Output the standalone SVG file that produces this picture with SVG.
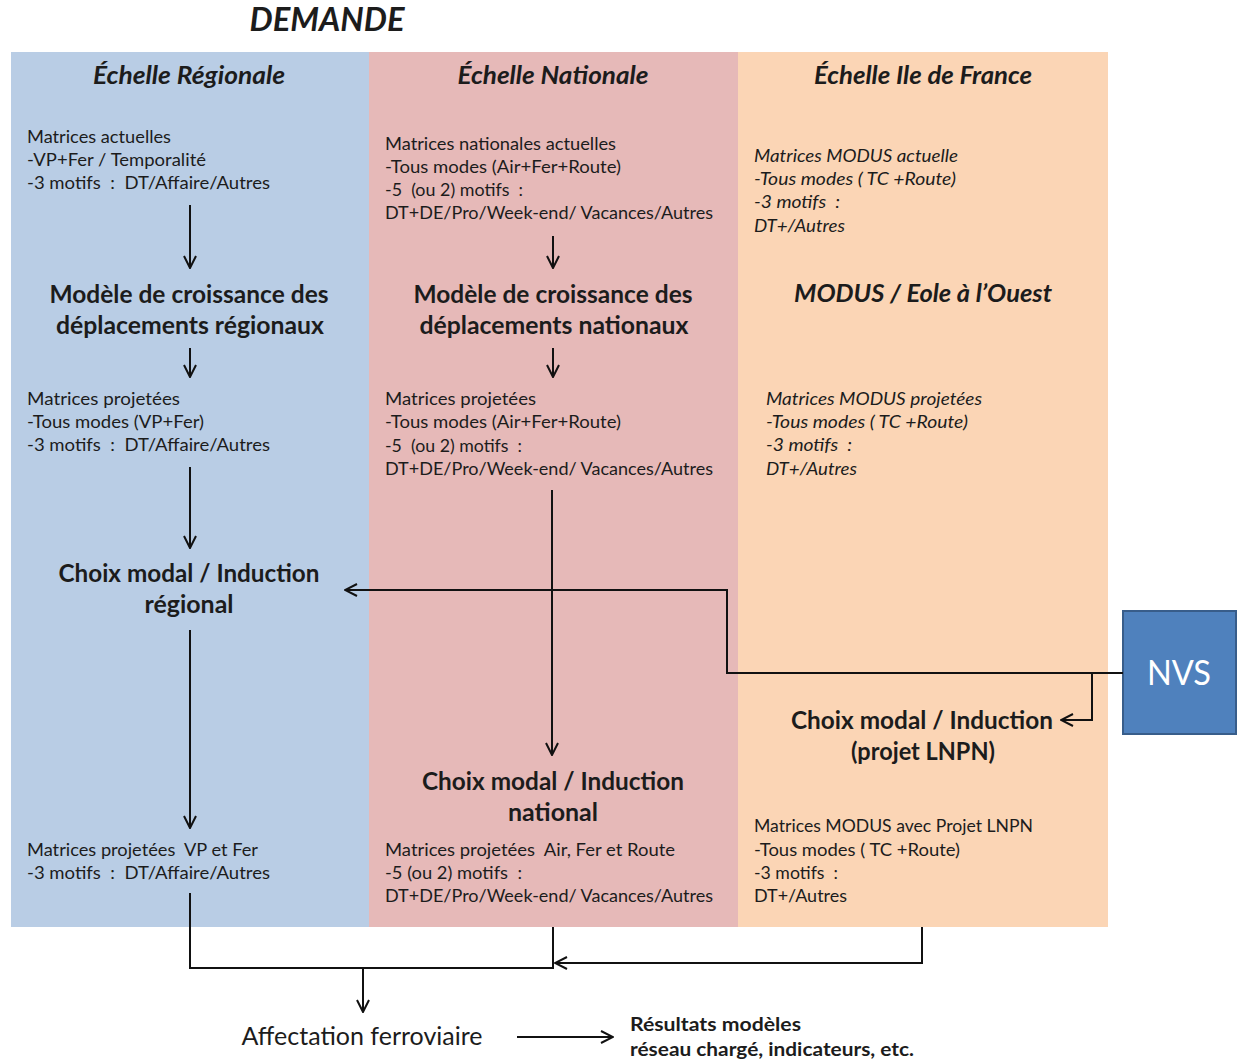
<svg xmlns="http://www.w3.org/2000/svg" width="1243" height="1064" viewBox="0 0 1243 1064">
<defs>
<marker id="arr" viewBox="0 0 14 14" refX="13" refY="7" markerWidth="14" markerHeight="14" markerUnits="userSpaceOnUse" orient="auto">
<path d="M1,1 L13,7 L1,13" fill="none" stroke="#111" stroke-width="2"/>
</marker>
</defs>
<style>
text{font-family:Lato,"Open Sans","Liberation Sans",sans-serif;fill:#1c1c1c;white-space:pre}
.body{font-size:17px}
.it{font-style:italic}
.hd{font-size:25px;font-style:italic;font-weight:bold;text-anchor:middle}
.bt{font-size:24px;font-weight:bold;text-anchor:middle}
.ln{fill:none;stroke:#111;stroke-width:2}
.ar{fill:none;stroke:#111;stroke-width:2;marker-end:url(#arr)}
</style>
<rect width="1243" height="1064" fill="#ffffff"/>
<text x="327" y="31" textLength="155" lengthAdjust="spacingAndGlyphs" style="font-size:32px;font-weight:bold;font-style:italic;text-anchor:middle">DEMANDE</text>

<g id="panel-regional">
<rect x="11" y="52" width="358" height="875" fill="#b9cde5"/>
<text class="hd" x="189" y="84" textLength="192" lengthAdjust="spacingAndGlyphs">Échelle Régionale</text>
</g>
<g id="panel-national">
<rect x="369" y="52" width="369" height="875" fill="#e6b9b8"/>
<text class="hd" x="553" y="84" textLength="191" lengthAdjust="spacingAndGlyphs">Échelle Nationale</text>
</g>
<g id="panel-idf">
<rect x="738" y="52" width="370" height="875" fill="#fbd5b5"/>
<text class="hd" x="923" y="84" textLength="218" lengthAdjust="spacingAndGlyphs">Échelle Ile de France</text>
</g>

<g id="reg-actuelles">
<text class="body" x="27" y="143" textLength="144" lengthAdjust="spacingAndGlyphs">Matrices actuelles</text>
<text class="body" x="27" y="166" textLength="179" lengthAdjust="spacingAndGlyphs">-VP+Fer / Temporalité</text>
<text class="body" x="27" y="189" textLength="243" lengthAdjust="spacingAndGlyphs">-3 motifs  :  DT/Affaire/Autres</text>
</g>
<g id="reg-modele">
<text class="bt" x="189" y="303" textLength="279" lengthAdjust="spacingAndGlyphs">Modèle de croissance des</text>
<text class="bt" x="190" y="334" textLength="268" lengthAdjust="spacingAndGlyphs">déplacements régionaux</text>
</g>
<g id="reg-projetees">
<text class="body" x="27" y="405" textLength="153" lengthAdjust="spacingAndGlyphs">Matrices projetées</text>
<text class="body" x="27" y="428" textLength="177" lengthAdjust="spacingAndGlyphs">-Tous modes (VP+Fer)</text>
<text class="body" x="27" y="451" textLength="243" lengthAdjust="spacingAndGlyphs">-3 motifs  :  DT/Affaire/Autres</text>
</g>
<g id="reg-choix">
<text class="bt" x="189" y="582" textLength="261" lengthAdjust="spacingAndGlyphs">Choix modal / Induction</text>
<text class="bt" x="189" y="613" textLength="89" lengthAdjust="spacingAndGlyphs">régional</text>
</g>
<g id="reg-final">
<text class="body" x="27" y="856" textLength="231" lengthAdjust="spacingAndGlyphs">Matrices projetées  VP et Fer</text>
<text class="body" x="27" y="879" textLength="243" lengthAdjust="spacingAndGlyphs">-3 motifs  :  DT/Affaire/Autres</text>
</g>

<g id="nat-actuelles">
<text class="body" x="385" y="150" textLength="231" lengthAdjust="spacingAndGlyphs">Matrices nationales actuelles</text>
<text class="body" x="385" y="173" textLength="236" lengthAdjust="spacingAndGlyphs">-Tous modes (Air+Fer+Route)</text>
<text class="body" x="385" y="196" textLength="138" lengthAdjust="spacingAndGlyphs">-5  (ou 2) motifs  :</text>
<text class="body" x="385" y="219" textLength="328" lengthAdjust="spacingAndGlyphs">DT+DE/Pro/Week-end/ Vacances/Autres</text>
</g>
<g id="nat-modele">
<text class="bt" x="553" y="303" textLength="279" lengthAdjust="spacingAndGlyphs">Modèle de croissance des</text>
<text class="bt" x="554" y="334" textLength="269" lengthAdjust="spacingAndGlyphs">déplacements nationaux</text>
</g>
<g id="nat-projetees">
<text class="body" x="385" y="405" textLength="151" lengthAdjust="spacingAndGlyphs">Matrices projetées</text>
<text class="body" x="385" y="428" textLength="236" lengthAdjust="spacingAndGlyphs">-Tous modes (Air+Fer+Route)</text>
<text class="body" x="385" y="452" textLength="137" lengthAdjust="spacingAndGlyphs">-5  (ou 2) motifs  :</text>
<text class="body" x="385" y="475" textLength="328" lengthAdjust="spacingAndGlyphs">DT+DE/Pro/Week-end/ Vacances/Autres</text>
</g>
<g id="nat-choix">
<text class="bt" x="553" y="790" textLength="262" lengthAdjust="spacingAndGlyphs">Choix modal / Induction</text>
<text class="bt" x="553" y="821" textLength="90" lengthAdjust="spacingAndGlyphs">national</text>
</g>
<g id="nat-final">
<text class="body" x="385" y="856" textLength="290" lengthAdjust="spacingAndGlyphs">Matrices projetées  Air, Fer et Route</text>
<text class="body" x="385" y="879" textLength="137" lengthAdjust="spacingAndGlyphs">-5 (ou 2) motifs  :</text>
<text class="body" x="385" y="902" textLength="328" lengthAdjust="spacingAndGlyphs">DT+DE/Pro/Week-end/ Vacances/Autres</text>
</g>

<g id="idf-actuelles">
<text class="body it" x="754" y="162" textLength="204" lengthAdjust="spacingAndGlyphs">Matrices MODUS actuelle</text>
<text class="body it" x="754" y="185" textLength="202" lengthAdjust="spacingAndGlyphs">-Tous modes ( TC +Route)</text>
<text class="body it" x="754" y="208" textLength="86" lengthAdjust="spacingAndGlyphs">-3 motifs  :</text>
<text class="body it" x="754" y="232" textLength="91" lengthAdjust="spacingAndGlyphs">DT+/Autres</text>
</g>
<g id="idf-modus">
<text class="hd" x="923" y="302" textLength="258" lengthAdjust="spacingAndGlyphs">MODUS / Eole à l’Ouest</text>
</g>
<g id="idf-projetees">
<text class="body it" x="766" y="405" textLength="216" lengthAdjust="spacingAndGlyphs">Matrices MODUS projetées</text>
<text class="body it" x="766" y="428" textLength="202" lengthAdjust="spacingAndGlyphs">-Tous modes ( TC +Route)</text>
<text class="body it" x="766" y="451" textLength="86" lengthAdjust="spacingAndGlyphs">-3 motifs  :</text>
<text class="body it" x="766" y="475" textLength="91" lengthAdjust="spacingAndGlyphs">DT+/Autres</text>
</g>
<g id="idf-choix">
<text class="bt" x="922" y="729" textLength="262" lengthAdjust="spacingAndGlyphs">Choix modal / Induction</text>
<text class="bt" x="923" y="760" textLength="144" lengthAdjust="spacingAndGlyphs">(projet LNPN)</text>
</g>
<g id="idf-final">
<text class="body" x="754" y="832" textLength="279" lengthAdjust="spacingAndGlyphs">Matrices MODUS avec Projet LNPN</text>
<text class="body" x="754" y="856" textLength="206" lengthAdjust="spacingAndGlyphs">-Tous modes ( TC +Route)</text>
<text class="body" x="754" y="879" textLength="84" lengthAdjust="spacingAndGlyphs">-3 motifs  :</text>
<text class="body" x="754" y="902" textLength="93" lengthAdjust="spacingAndGlyphs">DT+/Autres</text>
</g>

<g id="nvs">
<rect x="1123" y="611" width="113" height="123" fill="#4f81bd" stroke="#385d8a" stroke-width="2"/>
<text x="1179" y="685" textLength="64" lengthAdjust="spacingAndGlyphs" style="font-size:34px;fill:#ffffff;text-anchor:middle">NVS</text>
</g>

<g id="affectation">
<text x="362" y="1045" textLength="241" lengthAdjust="spacingAndGlyphs" style="font-size:25px;text-anchor:middle">Affectation ferroviaire</text>
</g>
<g id="resultats">
<text x="630" y="1031" textLength="171" lengthAdjust="spacingAndGlyphs" style="font-size:19px;font-weight:bold">Résultats modèles</text>
<text x="630" y="1056" textLength="284" lengthAdjust="spacingAndGlyphs" style="font-size:19px;font-weight:bold">réseau chargé, indicateurs, etc.</text>
</g>

<g id="connectors">
<path class="ar" d="M190,205 V268"/>
<path class="ar" d="M190,348 V377"/>
<path class="ar" d="M190,467 V548"/>
<path class="ar" d="M190,630 V828"/>
<path class="ar" d="M553,236 V268"/>
<path class="ar" d="M553,348 V377"/>
<path class="ar" d="M552,490 V755"/>
<path class="ar" d="M1123,673 H727 V590 H345"/>
<path class="ar" d="M1092,673 V720 H1061"/>
<path class="ln" d="M190,893 V968 H553 V927"/>
<path class="ar" d="M922,927 V963 H555"/>
<path class="ar" d="M363,968 V1012"/>
<path class="ar" d="M517,1037 H613"/>
</g>
</svg>
